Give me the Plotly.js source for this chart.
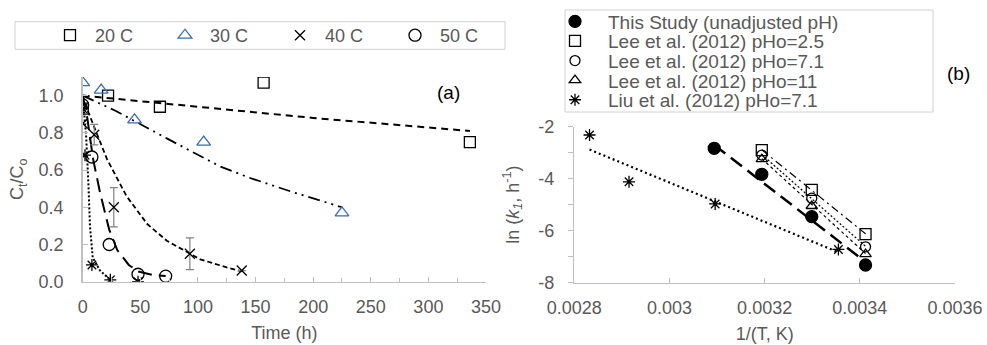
<!DOCTYPE html>
<html><head><meta charset="utf-8">
<script src="https://cdn.plot.ly/plotly-3.0.1.min.js"></script>
<style>html,body{margin:0;padding:0;background:#fff}#chart{width:987px;height:345px}</style>
</head><body><div id="chart"></div>
<script>
// ---------- Panel (a): Ct/Co vs time ----------
const t20 = [0, 22, 67, 157, 336];
const c20 = [0.93, 1.00, 0.94, 1.07, 0.75];
const t30 = [0, 16, 45, 105, 225];
const c30 = [1.07, 1.03, 0.87, 0.75, 0.37];
const t40 = [0, 10, 27, 93, 138];
const c40 = [0.85, 0.79, 0.40, 0.15, 0.06];
const e40 = [0, 0.055, 0.105, 0.085, 0];
const t50 = [0, 8, 23, 48, 72];
const c50 = [0.95, 0.67, 0.20, 0.04, 0.03];
const t60 = [0, 2, 8, 24, 48];
const c60 = [0.93, 0.68, 0.09, 0.01, 0.00];
// fitted curves
const ft20 = [0, 100, 200, 336];
const fc20 = [1.0, 0.94, 0.88, 0.81];
const ft30 = [0, 28, 73, 119, 144, 183, 225];
const fc30 = [1.0, 0.92, 0.77, 0.62, 0.56, 0.48, 0.40];
const ft40 = [0, 5, 12, 21, 38, 56, 73, 102, 125, 138];
const fc40 = [1.0, 0.91, 0.80, 0.66, 0.46, 0.31, 0.22, 0.12, 0.077, 0.055];
const ft50 = [0, 4, 9, 15, 23, 30, 40, 48, 60, 72];
const fc50 = [1.0, 0.88, 0.66, 0.48, 0.28, 0.17, 0.09, 0.055, 0.037, 0.03];
const ft60 = [0, 2, 3, 5, 6.3, 8.7, 15, 24];
const fc60 = [1.0, 0.85, 0.78, 0.52, 0.30, 0.13, 0.06, 0.01];
const namesA = ['20 C', '30 C', '40 C', '50 C'];

// ---------- Panel (b): Arrhenius ----------
const xStudy = [0.003094, 0.003194, 0.003299, 0.003412];
const yStudy = [-2.83, -3.83, -5.46, -7.32];
const xLee = [0.003194, 0.003299, 0.003412];
const yLee25 = [-2.90, -4.43, -6.13];
const yLee71 = [-3.09, -4.75, -6.62];
const yLee11 = [-3.25, -5.05, -6.90];
const xLiu = [0.002832, 0.002915, 0.003096, 0.003355];
const yLiu = [-2.32, -4.12, -4.97, -6.72];
// trend lines (end points)
const fxStudy = [0.003094, 0.003412], fyStudy = [-2.70, -7.20];
const fxLee = [0.003194, 0.003412];
const fyLee25 = [-2.89, -6.12];
const fyLee71 = [-3.07, -6.60];
const fyLee11 = [-3.23, -6.88];
const fxLiu = [0.002832, 0.003355], fyLiu = [-2.88, -6.83];
const namesB = ['This Study (unadjusted pH)', 'Lee et al. (2012) pHo=2.5', 'Lee et al. (2012) pHo=7.1', 'Lee et al. (2012) pHo=11', 'Liu et al. (2012) pHo=7.1'];

const xTickVals2 = [0.0028, 0.003, 0.0032, 0.0034, 0.0036];
const xTickText2 = ['0.0028', '0.003', '0.0032', '0.0034', '0.0036'];
const yTickVals2 = [-8, -6, -4, -2];
const yTickText2 = ['-8', '-6', '-4', '-2'];

const GREY = '#595959', AX = '#bfbfbf', BLUE = '#3b6fa8', BOX = '#d0d0d0';
const F = 'Liberation Sans, Arial, sans-serif';

function line(x, y, dash, w, xa, ya) {
  return {x, y, mode: 'lines', xaxis: xa, yaxis: ya, showlegend: false, hoverinfo: 'skip',
    line: {color: '#000', width: w, dash: dash}};
}
function pts(x, y, name, symbol, size, color, xa, ya, leg, extra) {
  return Object.assign({x, y, name, mode: 'markers', xaxis: xa, yaxis: ya, legend: leg,
    marker: {symbol, size, color, line: {color, width: 1.3}}}, extra || {});
}

const traces = [
  line(ft20, fc20, '7px,5px', 2, 'x', 'y'),
  line(ft30, fc30, '12px,5px,2px,5px,2px,5px', 1.8, 'x', 'y'),
  line(ft40, fc40, '5px,3px', 1.8, 'x', 'y'),
  line(ft50, fc50, '14px,7px', 2, 'x', 'y'),
  line(ft60, fc60, '2px,2px', 2, 'x', 'y'),
  pts(t20, c20, namesA[0], 'square-open', 11, '#000', 'x', 'y', 'legend'),
  pts(t30, c30, namesA[1], 'triangle-up-open', 12, BLUE, 'x', 'y', 'legend'),
  pts(t40, c40, namesA[2], 'x-thin-open', 10, '#000', 'x', 'y', 'legend',
      {error_y: {type: 'data', array: e40, visible: true, color: '#808080', thickness: 1.2, width: 4}}),
  pts(t50, c50, namesA[3], 'circle-open', 12, '#000', 'x', 'y', 'legend'),
  Object.assign(pts(t60, c60, '60 C', 'asterisk-open', 10, '#000', 'x', 'y', 'legend'), {showlegend: false}),

  line(fxStudy, fyStudy, '14px,7px', 2.5, 'x2', 'y2'),
  line(fxLee, fyLee25, '8px,4px,2px,4px', 1.2, 'x2', 'y2'),
  line(fxLee, fyLee71, '2px,2px', 1.2, 'x2', 'y2'),
  line(fxLee, fyLee11, '3px,3px', 1.2, 'x2', 'y2'),
  line(fxLiu, fyLiu, '2px,3px', 2.2, 'x2', 'y2'),
  pts(xStudy, yStudy, namesB[0], 'circle', 12, '#000', 'x2', 'y2', 'legend2'),
  pts(xLee, yLee25, namesB[1], 'square-open', 11, '#000', 'x2', 'y2', 'legend3'),
  pts(xLee, yLee71, namesB[2], 'circle-open', 10, '#000', 'x2', 'y2', 'legend4'),
  pts(xLee, yLee11, namesB[3], 'triangle-up-open', 10, '#000', 'x2', 'y2', 'legend5'),
  pts(xLiu, yLiu, namesB[4], 'asterisk-open', 10, '#000', 'x2', 'y2', 'legend6'),
];

const W = 987, H = 345;
const px = v => v / W, py = v => 1 - v / H;
const tf = {family: F, size: 18, color: GREY};
const lf = {family: F, size: 19, color: GREY};
const axBase = {showline: true, linecolor: AX, linewidth: 1.5, showgrid: false, zeroline: false,
  tickcolor: AX, tickfont: tf, ticklen: 5, tickwidth: 1};

function subLegend(yc) {
  return {x: px(542), xanchor: 'left', y: py(yc), yanchor: 'middle', borderwidth: 0,
    bgcolor: 'rgba(0,0,0,0)', font: lf, itemwidth: 56};
}

const layout = {
  width: W, height: H, margin: {l: 0, r: 0, t: 0, b: 0},
  paper_bgcolor: '#fff', plot_bgcolor: 'rgba(0,0,0,0)', font: {family: F, color: GREY},
  xaxis: Object.assign({}, axBase, {domain: [px(82.7), px(486)], range: [0, 350], anchor: 'y',
    dtick: 50, tick0: 0, ticks: 'inside', ticklabelstandoff: 8,
    minor: {dtick: 25, ticks: 'inside', ticklen: 4, tickcolor: AX},
    title: {text: 'Time (h)', font: tf, standoff: 10}}),
  yaxis: Object.assign({}, axBase, {domain: [py(281.7), py(77)], range: [0, 1.1], anchor: 'x',
    dtick: 0.2, tick0: 0, tickformat: '.1f', ticks: 'inside', ticklabelstandoff: 14,
    title: {text: 'C<sub>t</sub>/C<sub>o</sub>', font: tf, standoff: 10}}),
  xaxis2: Object.assign({}, axBase, {domain: [px(574.3), px(955)], range: [0.0028, 0.0036], anchor: 'y2',
    tickvals: xTickVals2, ticktext: xTickText2, ticks: 'inside', ticklabelstandoff: 8,
    title: {text: '1/(T, K)', font: tf, standoff: 10}}),
  yaxis2: Object.assign({}, axBase, {domain: [py(282.7), py(126.7)], range: [-8, -2], anchor: 'x2',
    tickvals: yTickVals2, ticktext: yTickText2, ticks: 'outside', ticklabelstandoff: 10,
    minor: {dtick: 1, ticks: 'outside', ticklen: 5, tickcolor: AX},
    title: {text: 'ln (<i>k</i><sub><i>1</i></sub>, h<sup>-1</sup>)', font: tf, standoff: 14}}),
  legend: {orientation: 'h', x: px(45), xanchor: 'left', y: py(35.5), yanchor: 'middle',
    borderwidth: 0, bgcolor: 'rgba(0,0,0,0)', font: tf,
    itemwidth: 40, entrywidth: 60},
  legend2: subLegend(21.5), legend3: subLegend(41.1), legend4: subLegend(60.7),
  legend5: subLegend(80.3), legend6: subLegend(99.9),
  shapes: [
    {type: 'rect', xref: 'paper', yref: 'paper', x0: px(15), x1: px(505), y0: py(49.3), y1: py(21.7),
      line: {color: BOX, width: 1}, fillcolor: 'rgba(0,0,0,0)'},
    {type: 'rect', xref: 'paper', yref: 'paper', x0: px(565), x1: px(933), y0: py(112), y1: py(10),
      line: {color: BOX, width: 1}, fillcolor: 'rgba(0,0,0,0)'}],
  annotations: [
    {text: '(a)', xref: 'paper', yref: 'paper', x: px(448), y: py(80), showarrow: false, font: {family: F, size: 19, color: '#000'}},
    {text: '(b)', xref: 'paper', yref: 'paper', x: px(972), y: py(61), showarrow: false, font: {family: F, size: 19, color: '#000'}}
  ]
};

Plotly.newPlot('chart', traces, layout, {displayModeBar: false, staticPlot: true});
</script></body></html>
